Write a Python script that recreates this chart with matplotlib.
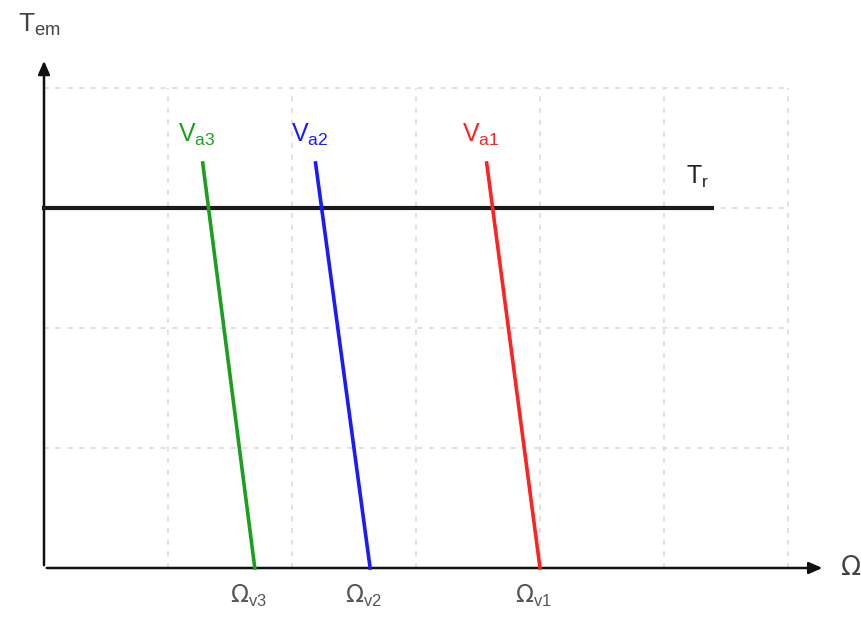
import matplotlib
matplotlib.use('Agg')
import matplotlib.pyplot as plt

# grid spacing in data units
x_grid = [1, 2, 3, 4, 5, 6]
y_grid = [1, 2, 3, 4]

# load torque
t_r = 3.0
t_r_end = 5.39

# speed-torque lines for three armature voltages: (top x, top y, bottom x)
names = ['a3', 'a2', 'a1']
omega_names = ['v3', 'v2', 'v1']
top_x = [1.28, 2.19, 3.57]
top_y = [3.375, 3.375, 3.375]
omega_x = [1.70, 2.63, 4.00]
colors = ['#1e9e1e', '#1a1aff', '#ff2222']

fig = plt.figure(figsize=(8.62, 6.2), dpi=100)
ax = fig.add_axes([0, 0, 1, 1])
ax.set_xlim(-44 / 124, (862 - 44) / 124)
ax.set_ylim((568 - 620) / 120, 568 / 120)
ax.axis('off')

grid_kw = dict(color='#dadada', lw=1.2, ls=(0, (3, 4)), zorder=1)
for gx in x_grid:
    ax.plot([gx, gx], [0, y_grid[-1]], **grid_kw)
for gy in y_grid:
    ax.plot([0, x_grid[-1]], [gy, gy], **grid_kw)

# axes with arrows
ax.annotate('', xy=(0, 4.25), xytext=(0, 0),
            arrowprops=dict(arrowstyle='-|>,head_length=0.8,head_width=0.35',
                            color='#111111', lw=1.8), zorder=3)
ax.annotate('', xy=(6.30, 0), xytext=(0, 0),
            arrowprops=dict(arrowstyle='-|>,head_length=0.8,head_width=0.35',
                            color='#111111', lw=1.8), zorder=3)

ax.plot([0, t_r_end], [t_r, t_r], color='#1a1a1a', lw=3, zorder=4)

for n, on, x0, y0, x1, c in zip(names, omega_names, top_x, top_y, omega_x, colors):
    ax.plot([x0, x1], [y0, 0], color=c, lw=2.6, zorder=5)
    ax.text(x0 - 0.05, 3.5, r'V$_{\mathregular{%s}}$' % n, color=c,
            fontsize=18, ha='center', va='bottom', family='Liberation Sans')
    ax.text(x1 - 0.05, -0.12, r'$\Omega$$_{\mathregular{%s}}$' % on, color='#555555',
            fontsize=17, ha='center', va='top', family='Liberation Sans')

ax.text(-0.21, 4.64, r'T$_{\mathregular{em}}$', color='#444444', fontsize=19,
        ha='left', va='top', family='Liberation Sans')
ax.text(t_r_end - 0.12, 3.15, r'T$_{\mathregular{r}}$', color='#222222', fontsize=18,
        ha='center', va='bottom', family='Liberation Sans')
ax.text(6.42, 0, r'$\Omega$', color='#444444', fontsize=19, ha='left', va='center')

fig.savefig('out.png', dpi=100)
